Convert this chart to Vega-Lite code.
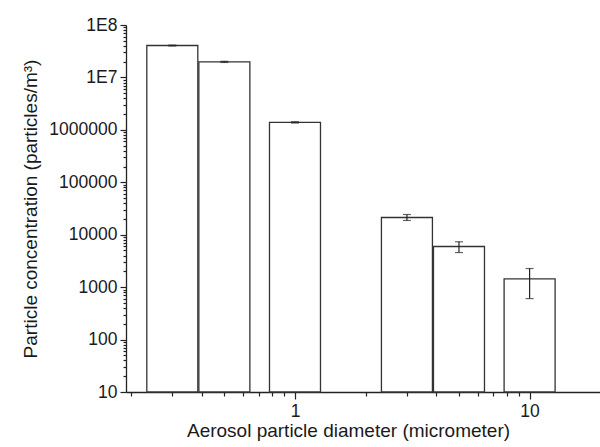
{
  "$schema": "https://vega.github.io/schema/vega-lite/v6.json",
  "autosize": "none",
  "width": 474,
  "height": 367,
  "padding": {"left": 126, "top": 25, "right": 0, "bottom": 55},
  "background": "white",
  "config": {
    "view": {"stroke": null},
    "font": "Liberation Sans",
    "axis": {
      "domainColor": "#222",
      "domainWidth": 1.3,
      "tickColor": "#222",
      "tickWidth": 1.2,
      "labelColor": "#1a1a1a",
      "titleColor": "#1a1a1a",
      "labelFont": "Liberation Sans",
      "titleFont": "Liberation Sans",
      "labelFontSize": 17.5,
      "titleFontSize": 19,
      "titleFontWeight": "normal",
      "grid": false
    }
  },
  "data": {
    "values": [
      {"d": 0.3, "c": 40600000, "lo": 39800000, "hi": 41400000},
      {"d": 0.5, "c": 19800000, "lo": 19300000, "hi": 20300000},
      {"d": 1, "c": 1390000, "lo": 1350000, "hi": 1430000},
      {"d": 3, "c": 21300, "lo": 18700, "hi": 24300},
      {"d": 5, "c": 5960, "lo": 4570, "hi": 7330},
      {"d": 10, "c": 1440, "lo": 605, "hi": 2265}
    ]
  },
  "encoding": {
    "x": {
      "field": "d",
      "type": "quantitative",
      "scale": {"type": "log", "domain": [0.2, 19], "nice": false},
      "axis": {
        "title": "Aerosol particle diameter (micrometer)",
        "values": [0.2, 0.3, 0.4, 0.5, 0.6, 0.7, 0.8, 0.9, 1, 2, 3, 4, 5, 6, 7, 8, 9, 10],
        "labelExpr": "datum.value == 1 || datum.value == 10 ? datum.label : ''",
        "tickSize": {"condition": {"test": "datum.value == 1 || datum.value == 10", "value": 7}, "value": 4},
        "labelPadding": 3,
        "titlePadding": 2,
        "titleX": 222,
        "labelFlush": false,
        "labelOverlap": false
      }
    }
  },
  "layer": [
    {
      "mark": {"type": "bar", "width": 51, "fill": "white", "stroke": "#333", "strokeWidth": 1.3},
      "encoding": {
        "y": {
          "field": "c",
          "type": "quantitative",
          "scale": {"type": "log", "domain": [10, 100000000], "nice": false},
          "axis": {
            "title": "Particle concentration (particles/m³)",
            "values": [10, 20, 30, 40, 50, 60, 70, 80, 90,
                       100, 200, 300, 400, 500, 600, 700, 800, 900,
                       1000, 2000, 3000, 4000, 5000, 6000, 7000, 8000, 9000,
                       10000, 20000, 30000, 40000, 50000, 60000, 70000, 80000, 90000,
                       100000, 200000, 300000, 400000, 500000, 600000, 700000, 800000, 900000,
                       1000000, 2000000, 3000000, 4000000, 5000000, 6000000, 7000000, 8000000, 9000000,
                       10000000, 20000000, 30000000, 40000000, 50000000, 60000000, 70000000, 80000000, 90000000,
                       100000000],
            "labelExpr": "abs(log(datum.value)/LN10 - round(log(datum.value)/LN10)) < 0.000001 ? (datum.value >= 10000000 ? '1E' + round(log(datum.value)/LN10) : format(datum.value, 'd')) : ''",
            "tickSize": {"condition": {"test": "abs(log(datum.value)/LN10 - round(log(datum.value)/LN10)) < 0.000001", "value": 6}, "value": 3},
            "labelPadding": 3,
            "titlePadding": 8,
            "labelFlush": false,
            "labelOverlap": false
          }
        },
        "y2": {"datum": 10}
      }
    },
    {
      "mark": {"type": "rule", "color": "#222", "strokeWidth": 1.2},
      "encoding": {
        "y": {"field": "lo", "type": "quantitative"},
        "y2": {"field": "hi"}
      }
    },
    {
      "mark": {"type": "tick", "orient": "horizontal", "size": 8, "thickness": 1.2, "color": "#222"},
      "encoding": {"y": {"field": "lo", "type": "quantitative"}}
    },
    {
      "mark": {"type": "tick", "orient": "horizontal", "size": 8, "thickness": 1.2, "color": "#222"},
      "encoding": {"y": {"field": "hi", "type": "quantitative"}}
    }
  ]
}
